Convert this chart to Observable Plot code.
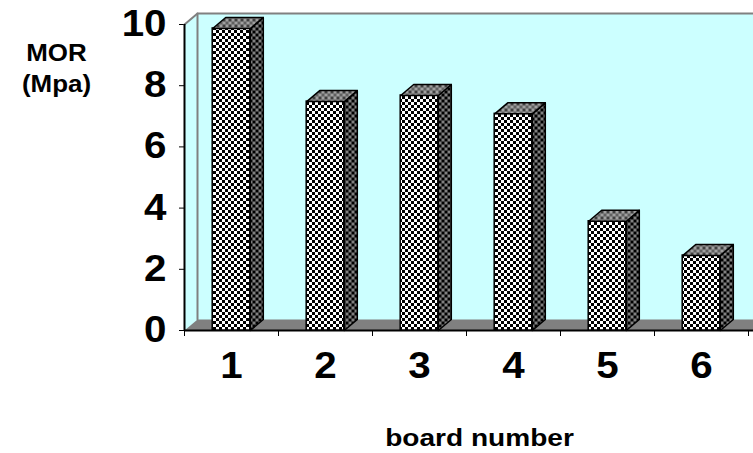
<!DOCTYPE html>
<html><head><meta charset="utf-8">
<script src="https://cdn.jsdelivr.net/npm/d3@7"></script>
<script src="https://cdn.jsdelivr.net/npm/@observablehq/plot@0.6"></script>
<style>body{margin:0;background:#fff} svg{overflow:visible}</style>
</head><body><div id="chart"></div>
<script>
// ---- data ----
const categories = [1, 2, 3, 4, 5, 6];
const values = [9.87, 7.48, 7.68, 7.08, 3.57, 2.45];
const yTicks = [0, 2, 4, 6, 8, 10];
const yTitle = "MOR\n(Mpa)";
const xTitle = "board number";

// ---- geometry (3D look) ----
const HALF = 0.2;            // bar half-width, category units
const DX = 13 / 94;          // depth offset in x (category units)
const DY = 11 / 30.6;        // depth offset in y (value units)

const xMin = categories[0] - 0.5;
const xMax = categories[categories.length - 1] + 0.5;
const yMax = d3.max(yTicks);
const boundaries = d3.range(xMin, xMax + 0.01, 1);

const bars = categories.map((c, i) => ({c, v: values[i]}));
const poly = (id, pts) => pts.map(([x, y]) => ({id, x, y}));
const sides = bars.flatMap(b => poly(b.c, [[b.c + HALF, 0], [b.c + HALF + DX, DY], [b.c + HALF + DX, b.v + DY], [b.c + HALF, b.v], [b.c + HALF, 0]]));
const tops = bars.flatMap(b => poly(b.c, [[b.c - HALF, b.v], [b.c + HALF, b.v], [b.c + HALF + DX, b.v + DY], [b.c - HALF + DX, b.v + DY], [b.c - HALF, b.v]]));
const wall = poly(0, [[xMin, 0], [xMin, yMax], [xMin + DX, yMax + DY], [xMax + DX + 1, yMax + DY], [xMax + DX + 1, DY], [xMax, 0]]);
const wallEdges = [
  ...poly(1, [[xMin, yMax], [xMin + DX, yMax + DY], [xMax + DX + 1, yMax + DY]]),
  ...poly(2, [[xMin + DX, yMax + DY], [xMin + DX, DY]])
];
const floor = poly(0, [[xMin, 0], [xMax + 1, 0], [xMax + 1 + DX, DY], [xMin + DX, DY], [xMin, 0]]);

const FONT = "'Liberation Sans', Arial, sans-serif";

const svg = Plot.plot({
  width: 753, height: 453,
  marginLeft: 184, marginRight: 5, marginTop: 24, marginBottom: 123,
  style: {fontFamily: FONT, fontWeight: "bold", fontSize: "36px", color: "black", background: "white", overflow: "visible"},
  x: {type: "linear", domain: [xMin, xMax], ticks: boundaries, tickSize: 6, tickFormat: () => "", label: null},
  y: {domain: [0, yMax], ticks: yTicks, tickSize: 5, tickPadding: 13, tickFormat: d => String(d), label: null},
  marks: [
    Plot.line(wall, {x: "x", y: "y", fill: "#ccffff", stroke: "none"}),
    Plot.line(floor, {x: "x", y: "y", fill: "#808080", stroke: "none"}),
    Plot.line(wallEdges, {x: "x", y: "y", z: "id", stroke: "#808080", strokeWidth: 2}),
    Plot.ruleX([xMin], {y1: 0, y2: yMax, stroke: "black", strokeWidth: 2}),
    Plot.ruleY([0], {x1: xMin, x2: xMax + 1, stroke: "black", strokeWidth: 2}),
    Plot.rect(bars, {x1: d => d.c - HALF, x2: d => d.c + HALF, y1: 0, y2: "v", fill: "url(#pfront)", stroke: "black", strokeWidth: 1.5}),
    Plot.line(sides, {x: "x", y: "y", z: "id", fill: "url(#pside)", stroke: "black", strokeWidth: 1.5}),
    Plot.line(tops, {x: "x", y: "y", z: "id", fill: "url(#ptop)", stroke: "black", strokeWidth: 1.5}),
    Plot.text(categories, {x: d => d, frameAnchor: "bottom", lineAnchor: "middle", dy: 36, text: d => String(d), fontSize: 36, fontWeight: "bold", className: "xlab"}),
    Plot.text([xTitle], {frameAnchor: "bottom", lineAnchor: "middle", dx: 13, dy: 108, fontSize: 23, fontWeight: "bold", className: "xtitle"}),
    Plot.text([yTitle], {frameAnchor: "top-left", textAnchor: "middle", lineAnchor: "middle", dx: -128, dy: 42, lineHeight: 1.3, fontSize: 24, fontWeight: "bold", className: "ytitle"})
  ]
});

// patterns
const defs = d3.select(svg).insert("defs", ":first-child");
function pattern(id, bg, cells) {
  const p = defs.append("pattern").attr("id", id).attr("patternUnits", "userSpaceOnUse").attr("width", 6).attr("height", 6);
  p.append("rect").attr("width", 6).attr("height", 6).attr("fill", bg);
  cells.forEach(([x, y, c]) => p.append("rect").attr("x", x).attr("y", y).attr("width", 3).attr("height", 3).attr("fill", c));
}
pattern("pfront", "#ffffff", [[0, 0, "#000"], [3, 3, "#000"]]);
pattern("pside", "#808080", [[0, 0, "#000"], [3, 3, "#000"]]);
pattern("ptop", "#a0a0a0", [[0, 0, "#404040"], [3, 3, "#606060"]]);

d3.select(svg).selectAll("text").attr("font-weight", "bold").attr("font-family", FONT);
d3.select(svg).selectAll("[aria-label^='y-axis'] text").attr("font-size", 36);

document.getElementById("chart").append(svg);

// horizontal stretch of glyphs (reference text is widened)
function stretch(sel, k) {
  d3.select(svg).selectAll(sel).each(function () {
    const tspans = this.querySelectorAll("tspan");
    const els = tspans.length ? Array.from(tspans) : [this];
    els.forEach(el => {
      const L = el.getComputedTextLength();
      if (L > 0) { el.setAttribute("textLength", L * k); el.setAttribute("lengthAdjust", "spacingAndGlyphs"); }
    });
  });
}
stretch("[aria-label^='y-axis'] text", 1.12);
stretch(".xlab text", 1.12);
stretch(".xtitle text", 1.22);
stretch(".ytitle text", 1.08);
</script>
</body></html>
